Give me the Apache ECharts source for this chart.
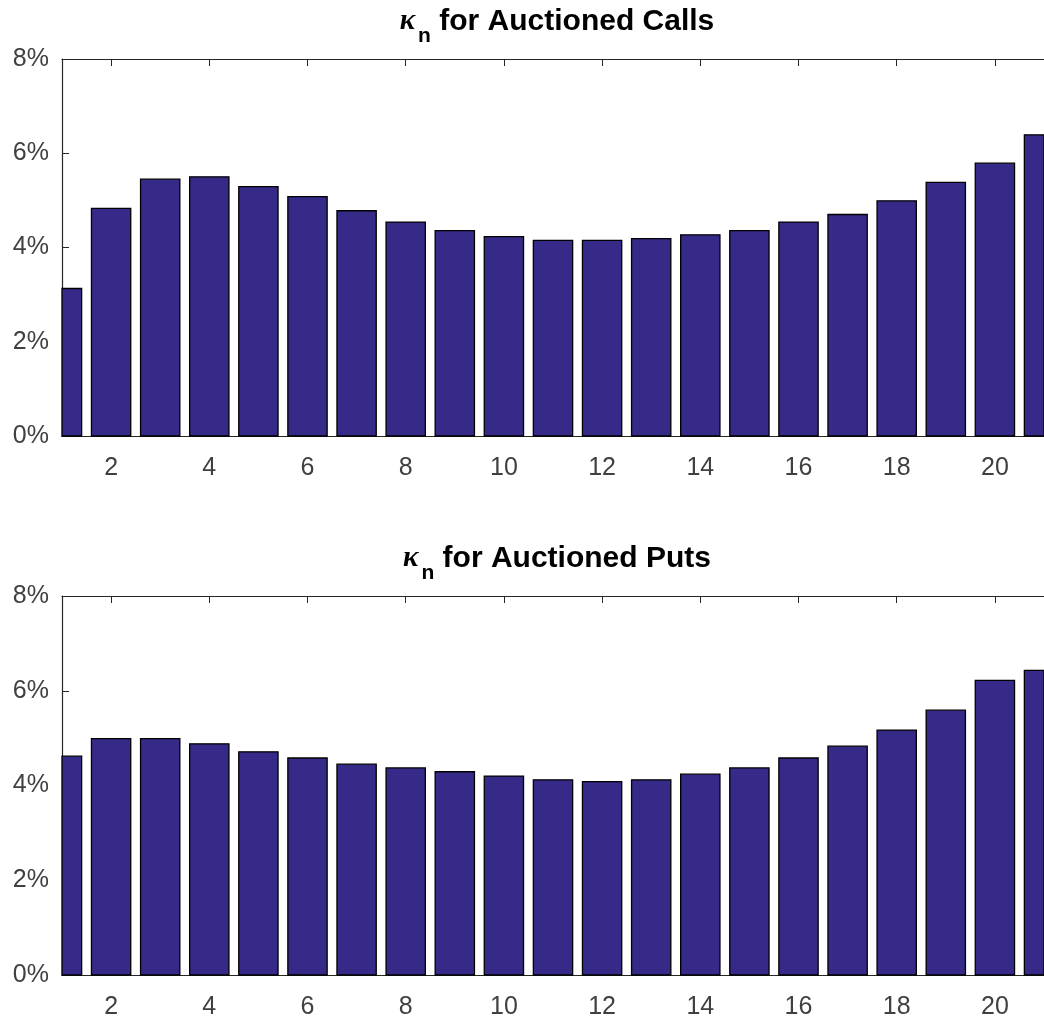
<!DOCTYPE html>
<html>
<head>
<meta charset="utf-8">
<script src="https://cdn.jsdelivr.net/npm/echarts@6/dist/echarts.min.js"></script>
<style>
html,body{margin:0;padding:0;background:#fff;}
#chart{width:1044px;height:1023px;}
</style>
</head>
<body>
<div id="chart"></div>
<script>
const positions = [1,2,3,4,5,6,7,8,9,10,11,12,13,14,15,16,17,18,19,20,21];
const callsKappa = [3.13,4.83,5.45,5.50,5.29,5.08,4.78,4.54,4.36,4.23,4.15,4.15,4.19,4.27,4.36,4.54,4.70,4.99,5.38,5.79,6.39];
const putsKappa  = [4.62,4.99,4.99,4.88,4.71,4.58,4.45,4.37,4.29,4.20,4.12,4.08,4.12,4.24,4.37,4.58,4.83,5.17,5.59,6.22,6.43];
const xTickValues = [2,4,6,8,10,12,14,16,18,20];
const yTicks = {min:0, max:8, interval:2};
const titles = ['for Auctioned Calls', 'for Auctioned Puts'];

const chart = echarts.init(document.getElementById('chart'), null, {renderer:'canvas'});
const axisColor = '#262626';
const labelColor = '#404040';
const font = 'Liberation Sans, Arial, Helvetica, sans-serif';
const barColor = '#352A87';
const barWidthFrac = 0.8;

const grids = [
  {left:62, right:-3, top:59, height:377},
  {left:62, right:-3, top:596, height:379}
];

function makeTitle(i, top){
  return {
    text: '{k|κ}{n|n}{t| ' + titles[i] + '}',
    left: 552, top: top, textAlign: 'center',
    textStyle: {
      fontWeight:'normal',
      rich: {
        k: {fontFamily:'Liberation Serif, Times New Roman, serif', fontStyle:'italic', fontWeight:'bold', fontSize:29, color:'#000', verticalAlign:'top', lineHeight:32},
        n: {fontFamily:font, fontWeight:'bold', fontSize:21, color:'#000', verticalAlign:'top', padding:[19,0,0,3], lineHeight:32},
        t: {fontFamily:font, fontWeight:'bold', fontSize:30, color:'#000', verticalAlign:'top', lineHeight:32}
      }
    }
  };
}

function renderBar(params, api){
  const x = api.value(0), y = api.value(1);
  const p0 = api.coord([x, 0]);
  const p1 = api.coord([x, y]);
  const w = api.size([barWidthFrac, 0])[0];
  const cs = params.coordSys;
  const rect = echarts.graphic.clipRectByRect(
    {x:p0[0]-w/2, y:p1[1], width:w, height:p0[1]-p1[1]},
    {x:cs.x, y:cs.y, width:cs.width, height:cs.height}
  );
  if (!rect) return null;
  return {type:'rect', shape:rect, style:{fill:barColor, stroke:'#000', lineWidth:1.3}};
}

const xAxes = [], yAxes = [], series = [];
[callsKappa, putsKappa].forEach((vals, i) => {
  xAxes.push({
    type:'value', gridIndex:i, min:1, max:21, position:'bottom',
    axisLine:{show:true, lineStyle:{color:axisColor, width:1.2}},
    axisTick:{show:true, inside:true, length:7, customValues:xTickValues, lineStyle:{color:axisColor}},
    axisLabel:{show:true, customValues:xTickValues, color:labelColor, fontSize:25, fontFamily:font, margin:20},
    splitLine:{show:false}
  });
  xAxes.push({
    type:'value', gridIndex:i, min:1, max:21, position:'top',
    axisLine:{show:true, onZero:false, lineStyle:{color:axisColor, width:1.2}},
    axisTick:{show:true, inside:true, length:7, customValues:xTickValues, lineStyle:{color:axisColor}},
    axisLabel:{show:false},
    splitLine:{show:false}
  });
  yAxes.push({
    type:'value', gridIndex:i, min:yTicks.min, max:yTicks.max, interval:yTicks.interval, position:'left',
    axisLine:{show:true, lineStyle:{color:axisColor, width:1.2}},
    axisTick:{show:true, inside:true, length:7, lineStyle:{color:axisColor}},
    axisLabel:{color:labelColor, fontSize:25, fontFamily:font, margin:13, formatter:'{value}%'},
    splitLine:{show:false}
  });
  series.push({
    type:'custom', xAxisIndex:i*2, yAxisIndex:i,
    data: positions.map((p, j) => [p, vals[j]]),
    encode:{x:0, y:1},
    renderItem: renderBar,
    z: 1,
    emphasis:{disabled:true}
  });
});

chart.setOption({
  animation:false,
  backgroundColor:'#fff',
  title:[makeTitle(0, 2), makeTitle(1, 539)],
  grid:grids,
  xAxis:xAxes,
  yAxis:yAxes,
  series:series
});
</script>
</body>
</html>
